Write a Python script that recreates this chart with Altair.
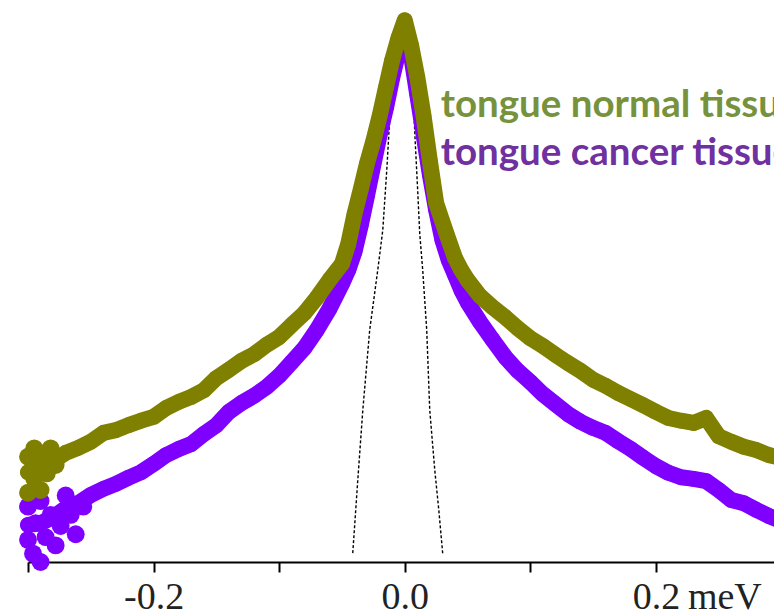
import altair as alt
import pandas as pd

# ---- data ----
energy = [-0.30, -0.29, -0.28, -0.27, -0.26, -0.25, -0.24, -0.23, -0.22, -0.21,
          -0.20, -0.19, -0.18, -0.17, -0.16, -0.15, -0.14, -0.13, -0.12, -0.11,
          -0.10, -0.09, -0.08, -0.07, -0.06, -0.05,
          -0.045, -0.04, -0.035, -0.03, -0.025, -0.02, -0.015, -0.01, -0.005, 0.0,
          0.005, 0.01, 0.015, 0.02, 0.025, 0.03, 0.035, 0.04, 0.045,
          0.05, 0.06, 0.07, 0.08, 0.09, 0.10, 0.11, 0.12, 0.13, 0.14,
          0.15, 0.16, 0.17, 0.18, 0.19, 0.20, 0.21, 0.22, 0.23, 0.24,
          0.25, 0.26, 0.27, 0.28, 0.29, 0.30]

normal_tissue = [0.162, 0.170, 0.182, 0.197, 0.206, 0.217, 0.233, 0.238, 0.247, 0.255,
                 0.262, 0.278, 0.289, 0.298, 0.310, 0.332, 0.347, 0.363, 0.375, 0.392,
                 0.406, 0.428, 0.449, 0.477, 0.509, 0.538,
                 0.574, 0.628, 0.673, 0.720, 0.760, 0.805, 0.856, 0.906, 0.946, 0.978,
                 0.933, 0.875, 0.805, 0.724, 0.648, 0.614, 0.581, 0.549, 0.527,
                 0.509, 0.480, 0.460, 0.442, 0.422, 0.404, 0.390, 0.374, 0.359, 0.345,
                 0.329, 0.318, 0.305, 0.294, 0.283, 0.271, 0.260, 0.255, 0.251, 0.260,
                 0.227, 0.217, 0.208, 0.202, 0.193, 0.188]

cancer_tissue = [0.067, 0.070, 0.081, 0.097, 0.106, 0.121, 0.132, 0.141, 0.152, 0.162,
                 0.177, 0.193, 0.204, 0.213, 0.231, 0.247, 0.271, 0.287, 0.300, 0.316,
                 0.336, 0.361, 0.386, 0.419, 0.457, 0.502,
                 0.527, 0.560, 0.608, 0.662, 0.717, 0.771, 0.819, 0.874, 0.921, 0.946,
                 0.915, 0.843, 0.771, 0.699, 0.635, 0.581, 0.545, 0.518, 0.491,
                 0.469, 0.433, 0.401, 0.370, 0.345, 0.325, 0.303, 0.285, 0.267, 0.253,
                 0.242, 0.233, 0.218, 0.204, 0.188, 0.173, 0.161, 0.153, 0.150, 0.146,
                 0.130, 0.112, 0.106, 0.094, 0.083, 0.074]

# extra scattered points in the noisy blob at the low-energy end
normal_spread_e = [-0.300, -0.300, -0.295, -0.295, -0.290, -0.290, -0.285, -0.282, -0.278]
normal_spread_i = [0.125, 0.190, 0.150, 0.205, 0.130, 0.195, 0.160, 0.205, 0.175]
cancer_spread_e = [-0.300, -0.300, -0.296, -0.294, -0.290, -0.290, -0.286, -0.282,
                   -0.278, -0.274, -0.270, -0.266, -0.262, -0.256]
cancer_spread_i = [0.100, 0.040, 0.015, 0.070, 0.000, 0.110, 0.045, 0.085,
                   0.030, 0.065, 0.120, 0.085, 0.050, 0.100]

# resolution function (dashed)
res_energy = [-0.0414, -0.0374, -0.0334, -0.0279, -0.0215, -0.0175, -0.0143, -0.0119,
              -0.0080, -0.0040, 0.0, 0.0040, 0.0064, 0.0080, 0.0103, 0.0119, 0.0143,
              0.0175, 0.0199, 0.0239, 0.0271, 0.0303]
res_intensity = [0.016, 0.148, 0.274, 0.419, 0.527, 0.599, 0.708, 0.803,
                 0.888, 0.951, 0.975, 0.951, 0.870, 0.774, 0.671, 0.594, 0.527,
                 0.419, 0.274, 0.166, 0.094, 0.013]

tick_values = [-0.3, -0.2, -0.1, 0.0, 0.1, 0.2, 0.3]
tick_labels = ["", "-0.2", "", "0.0", "", "0.2", ""]
unit_label = "meV"

label_texts = ["tongue normal tissue", "tongue cancer tissue"]
label_colors = ["#76923c", "#7030a0"]
label_x = [0.0287, 0.0287]
label_y = [0.803, 0.717]

OLIVE = "#808000"
PURPLE = "#8000ff"

# ---- build tables ----
df_n = pd.DataFrame({"E": energy, "I": normal_tissue})
df_c = pd.DataFrame({"E": energy, "I": cancer_tissue})
df_ns = pd.DataFrame({"E": normal_spread_e, "I": normal_spread_i})
df_cs = pd.DataFrame({"E": cancer_spread_e, "I": cancer_spread_i})
df_r = pd.DataFrame({"E": res_energy, "I": res_intensity})
df_lab = pd.DataFrame({"E": label_x, "I": label_y, "t": label_texts, "c": label_colors})
df_unit = pd.DataFrame({"E": [0.2], "t": [unit_label]})

W, H = 746, 554
label_expr = " : ".join(
    f"abs(datum.value - ({v})) < 1e-6 ? '{t}'" for v, t in zip(tick_values, tick_labels)
) + " : ''"

xscale = alt.Scale(domain=[-0.3, 0.3], range=[0, 753.5], nice=False, zero=False)
yscale = alt.Scale(domain=[0, 1], nice=False, zero=False)

x_axis = alt.Axis(values=tick_values, labelExpr=label_expr, title=None, grid=False,
                  domainColor="black", domainWidth=2, tickColor="black", tickWidth=2,
                  tickSize=10, labelFont="Liberation Serif", labelFontSize=38,
                  labelColor="#222222", labelPadding=6, labelOverlap=False,
                  labelFlush=False)

X = alt.X("E:Q", scale=xscale, axis=x_axis)
Y = alt.Y("I:Q", scale=yscale, axis=None)

res = alt.Chart(df_r).mark_line(color="black", strokeWidth=1.4, strokeDash=[3, 2]).encode(
    x=X, y=Y, order="E:Q")

def band(df, color):
    line = alt.Chart(df).mark_line(color=color, strokeWidth=16, strokeJoin="round",
                                   strokeCap="round").encode(x=X, y=Y, order="E:Q")
    pts = alt.Chart(df).mark_circle(color=color, size=240, opacity=1).encode(x=X, y=Y)
    return line + pts

cancer = band(df_c, PURPLE)
cancer_sp = alt.Chart(df_cs).mark_circle(color=PURPLE, size=320, opacity=1).encode(x=X, y=Y)
normal = band(df_n, OLIVE)
normal_sp = alt.Chart(df_ns).mark_circle(color=OLIVE, size=320, opacity=1).encode(x=X, y=Y)

labels = alt.Chart(df_lab).mark_text(align="left", baseline="alphabetic", font="Lato",
                                     fontWeight="bold", fontSize=38.5).encode(
    x=X, y=Y, text="t:N", color=alt.Color("c:N", scale=None))

unit = alt.Chart(df_unit).mark_text(align="left", baseline="alphabetic",
                                    font="Liberation Serif", fontSize=38, dx=32,
                                    color="#222222").encode(
    x=X, y=alt.value(H + 47), text="t:N")

chart = alt.layer(res, cancer_sp, cancer, normal_sp, normal, labels, unit).properties(
    width=W, height=H,
    padding={"left": 20, "top": 0, "right": 0, "bottom": 54},
    autosize=alt.AutoSizeParams(type="none"),
).configure(background="white").configure_view(stroke=None)

chart.save("out.html", embed_options={"renderer": "svg", "actions": False})
